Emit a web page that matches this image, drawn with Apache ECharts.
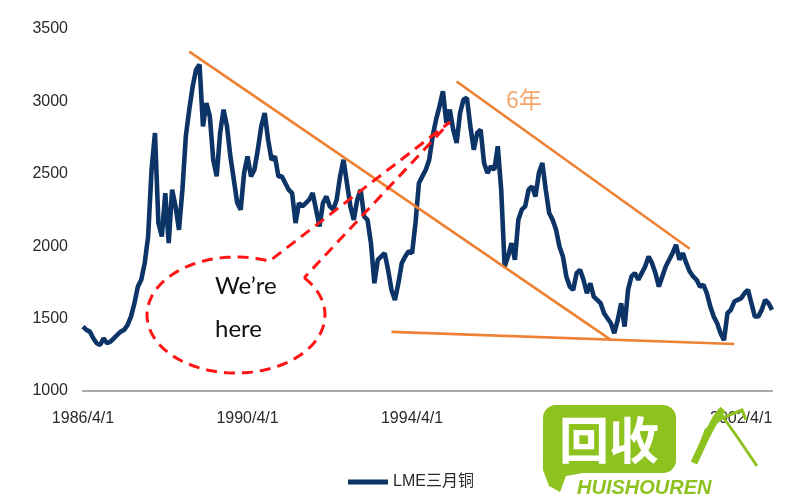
<!DOCTYPE html>
<html><head><meta charset="utf-8">
<script src="https://cdn.jsdelivr.net/npm/echarts@6/dist/echarts.min.js"></script>
<style>html,body{margin:0;padding:0;background:#fff}#c{width:800px;height:500px}</style>
</head><body><div id="c"></div>
<script>
// ---- data ----
const seriesName = 'LME三月铜';
const startYear = 1986, startMonth = 4, monthCount = 202;
const categories = [];
for (let i = 0; i < monthCount; i++) {
  const m0 = startMonth - 1 + i;
  categories.push((startYear + Math.floor(m0 / 12)) + '/' + (m0 % 12 + 1) + '/1');
}
const copper3M = [
  1445,1422,1410,1364,1330,1318,1364,1330,1341,1364,
  1387,1410,1422,1456,1514,1606,1721,1768,1883,2067,
  2528,2782,2160,2067,2367,2021,2390,2275,2113,2390,
  2759,2943,3104,3220,3254,2828,2989,2897,2597,2482,
  2782,2943,2828,2620,2459,2298,2252,2505,2620,2482,
  2528,2666,2828,2920,2736,2597,2620,2482,2482,2436,
  2390,2367,2160,2298,2275,2298,2321,2367,2252,2136,
  2298,2344,2275,2252,2321,2482,2597,2436,2275,2182,
  2321,2390,2206,2182,2021,1744,1906,1929,1952,1837,
  1698,1629,1744,1883,1929,1964,1952,2160,2436,2482,
  2528,2597,2759,2874,2966,3070,2851,2943,2805,2713,
  2920,3012,3024,2828,2666,2782,2805,2574,2505,2551,
  2528,2690,2390,1860,1929,2021,1906,2182,2252,2275,
  2390,2413,2344,2505,2574,2390,2229,2182,2113,1998,
  1929,1791,1721,1698,1814,1837,1768,1675,1744,1652,
  1629,1606,1537,1502,1468,1399,1491,1606,1445,1698,
  1791,1814,1768,1814,1860,1929,1883,1814,1721,1791,
  1860,1906,1952,2010,1906,1952,1883,1825,1791,1768,
  1721,1733,1675,1583,1514,1468,1399,1350,1537,1560,
  1618,1629,1641,1675,1698,1606,1514,1514,1560,1629,
  1606,1560
];
const yMin = 1000, yMax = 3500, yInterval = 500;
// trend lines: [startIndex, startValue], [endIndex, endValue]
const trendUpper1 = [[31, 3344], [154, 1353]];
const trendUpper2 = [[109, 3137], [177, 1982]];
const trendBottom = [[90, 1408], [190, 1325]];

// ---- chart ----
const chart = echarts.init(document.getElementById('c'), null, {renderer: 'canvas'});
const axisFont = {fontFamily: 'Liberation Sans, Arial, sans-serif', fontSize: 16, color: '#2a2a2a'};
const orange = '#ee8234';
function ml(seg) { return [{coord: seg[0]}, {coord: seg[1]}]; }

// callout ellipse (annotation)
const ell = {cx: 236, cy: 315, rx: 89, ry: 58};
const tip = [450, 122];
const ellPts = [];
for (let a = -40; a <= 295; a += 4) {
  const t = a * Math.PI / 180;
  ellPts.push([ell.cx + ell.rx * Math.cos(t), ell.cy + ell.ry * Math.sin(t)]);
}
ellPts.push(tip);
ellPts.push(ellPts[0]);

const green = '#8dc21f';

chart.setOption({
  animation: false,
  backgroundColor: '#fff',
  grid: {left: 83, right: 28, top: 29, bottom: 109},
  legend: {
    data: [seriesName], left: 343, top: 469, icon: 'rect', itemWidth: 40, itemHeight: 5,
    itemGap: 10, textStyle: {fontFamily: 'Liberation Sans, Noto Sans CJK SC, sans-serif', fontSize: 16, color: '#2a2a2a'}
  },
  xAxis: {
    type: 'category', data: categories, boundaryGap: false,
    axisLine: {lineStyle: {color: '#a8a8a8', width: 2}},
    axisTick: {show: false},
    axisLabel: Object.assign({interval: 47, margin: 20}, axisFont),
    splitLine: {show: false}
  },
  yAxis: {
    type: 'value', min: yMin, max: yMax, interval: yInterval,
    axisLine: {show: false}, axisTick: {show: false}, splitLine: {show: false},
    axisLabel: Object.assign({margin: 15, formatter: v => String(v)}, axisFont)
  },
  series: [{
    name: seriesName, type: 'line', data: copper3M, showSymbol: false,
    lineStyle: {color: '#0d3466', width: 4.6}, itemStyle: {color: '#0d3466'},
    z: 2,
    markLine: {
      silent: true, symbol: 'none', label: {show: false},
      lineStyle: {color: orange, width: 2.6, type: 'solid'},
      data: [ml(trendUpper1), ml(trendUpper2), ml(trendBottom)]
    }
  }],
  graphic: [
    {type: 'polyline', z: 50, silent: true, shape: {points: ellPts},
      style: {fill: null, stroke: '#ff1414', lineWidth: 3, lineDash: [11, 7]}},
    {type: 'text', z: 50, x: 215, y: 286, style: {text: 'We’re', font: '24px Lato, "Open Sans", sans-serif', fill: '#111', verticalAlign: 'middle'}},
    {type: 'text', z: 50, x: 215, y: 329, style: {text: 'here', font: '24px Lato, "Open Sans", sans-serif', fill: '#111', verticalAlign: 'middle'}},
    {type: 'text', z: 50, x: 506, y: 99, style: {text: '6年', font: '23px "Noto Sans CJK SC", sans-serif', fill: '#f4a66c', verticalAlign: 'middle'}},
    // watermark
    {type: 'polygon', z: 100, silent: true, shape: {points: [[543,455],[600,470],[566,476],[560,492],[549,486],[543,470]]}, style: {fill: green}},
    {type: 'rect', z: 100, silent: true, shape: {x: 543, y: 405, width: 133, height: 68, r: 13}, style: {fill: green}},
    {type: 'text', z: 101, x: 609, y: 440, style: {text: '回收', font: 'bold 50px "Noto Sans CJK SC", sans-serif', fill: '#fff', align: 'center', verticalAlign: 'middle'}},
    {type: 'text', z: 101, x: 577, y: 488, style: {text: 'HUISHOUREN', font: 'italic bold 20px "Liberation Sans", Arial, sans-serif', fill: green, verticalAlign: 'middle'}},
    {type: 'polyline', z: 101, silent: true, shape: {points: [[694,463],[706,437],[716,418],[723,409]]}, style: {stroke: green, lineWidth: 7, fill: null}},
    {type: 'polyline', z: 101, silent: true, shape: {points: [[718,410],[738,438],[757,466]]}, style: {stroke: green, lineWidth: 3, fill: null}},
    {type: 'polyline', z: 101, silent: true, shape: {points: [[698,452],[706,430],[722,418],[742,410],[746,420]]}, style: {stroke: green, lineWidth: 3, fill: null}}
  ]
});
</script>
</body></html>
